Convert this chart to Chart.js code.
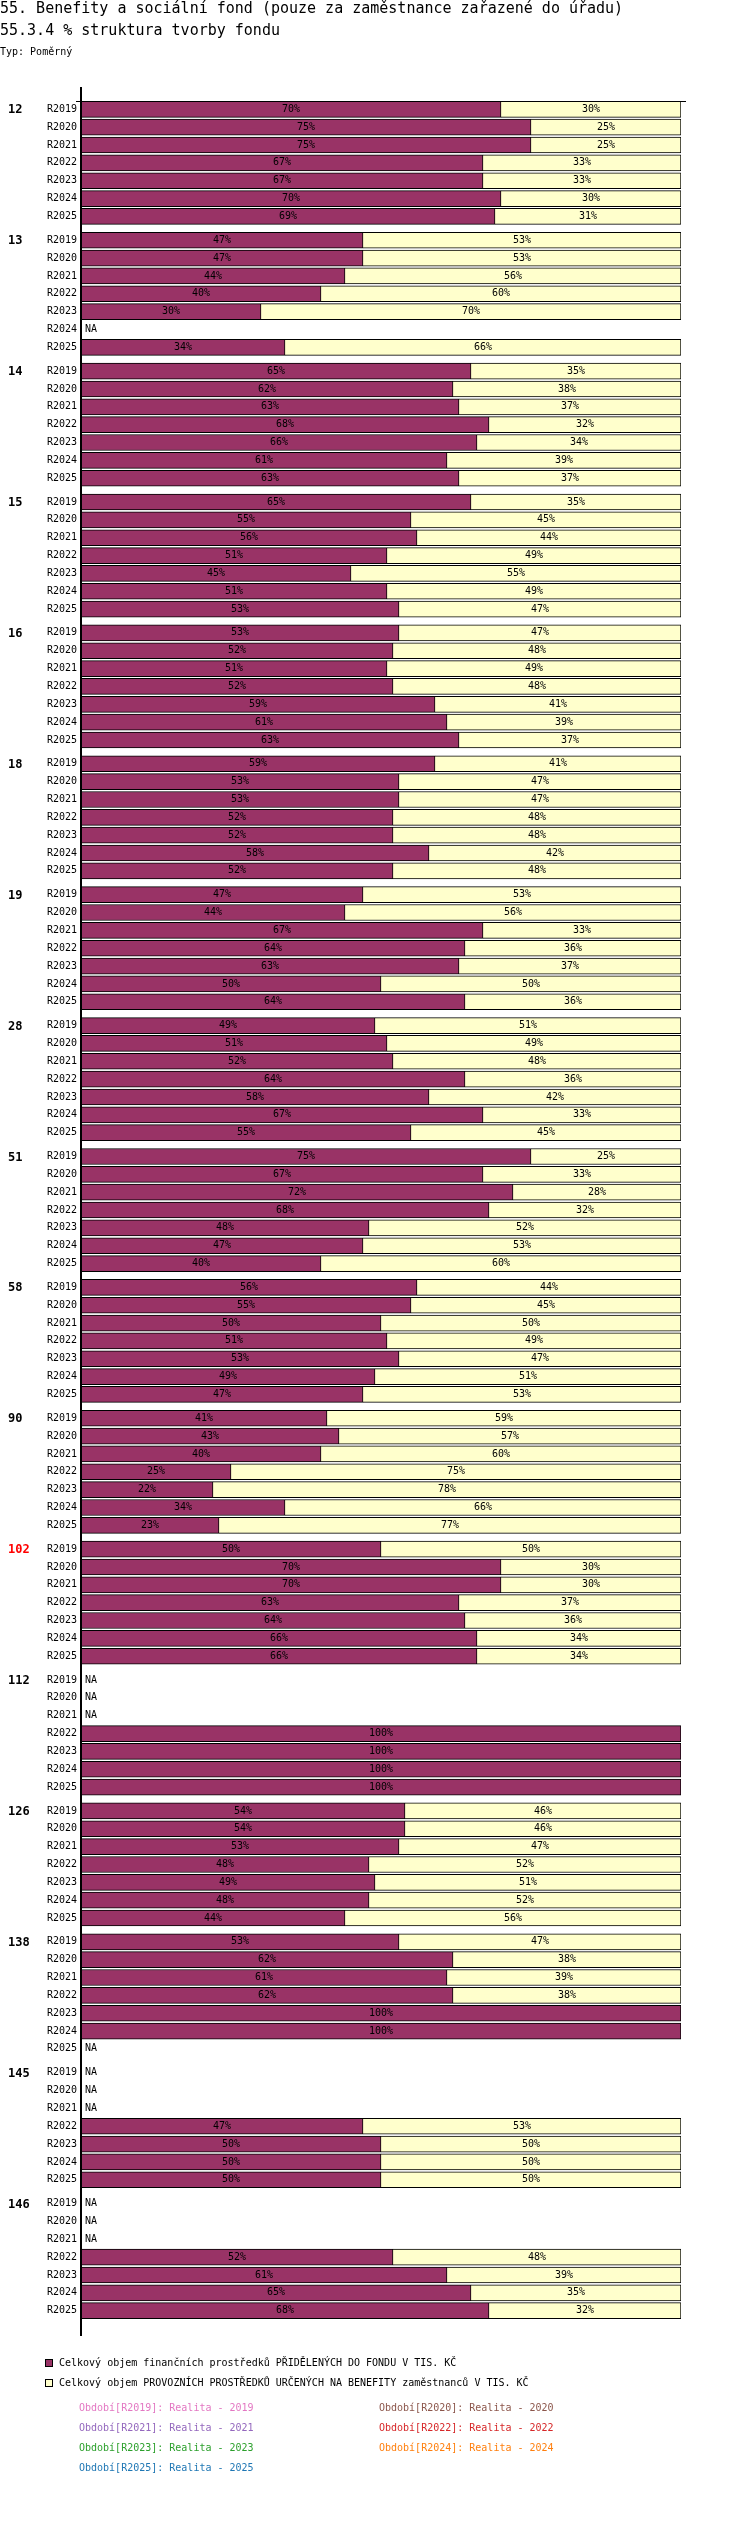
<!DOCTYPE html>
<html>
<head>
<meta charset="utf-8">
<script src="https://cdn.jsdelivr.net/npm/chart.js@4.4.1/dist/chart.umd.min.js"></script>
<style>
  body { margin: 0; background: #fff; font-family: "DejaVu Sans Mono", monospace; color: #000; }
  #wrap { position: relative; width: 750px; height: 2546px; }
  #chartBox { position: absolute; left: 0; top: 0; width: 750px; height: 2546px; }
  .t { position: absolute; white-space: pre; }
  .h1 { left: 0; top: 0; font-size: 15px; line-height: 16px; }
  .h2 { left: 0; top: 22px; font-size: 15px; line-height: 16px; }
  .h3 { left: 0; top: 46px; font-size: 10px; line-height: 12px; }
  .lg { left: 59px; font-size: 10px; line-height: 12px; }
  .sq { position: absolute; left: 45px; width: 8px; height: 8px; border: 1px solid #000; box-sizing: border-box; }
  .per { font-size: 10px; line-height: 12px; }
</style>
</head>
<body>
<div id="wrap">
  <div id="chartBox"><canvas id="fondChart"></canvas></div>
  <div class="t h1">55. Benefity a sociální fond (pouze za zaměstnance zařazené do úřadu)</div>
  <div class="t h2">55.3.4 % struktura tvorby fondu</div>
  <div class="t h3">Typ: Poměrný</div>

  <div class="sq" style="top:2359px;background:#993366"></div>
  <div class="t lg" style="top:2357px">Celkový objem finančních prostředků PŘIDĚLENÝCH DO FONDU V TIS. KČ</div>
  <div class="sq" style="top:2379px;background:#ffffcc"></div>
  <div class="t lg" style="top:2377px">Celkový objem PROVOZNÍCH PROSTŘEDKŮ URČENÝCH NA BENEFITY zaměstnanců V TIS. KČ</div>
  <div id="periods"></div>
</div>

<script>
    const groups = ['12', '13', '14', '15', '16', '18', '19', '28', '51', '58', '90', '102', '112', '126', '138', '145', '146'];
    const periods = ['R2019', 'R2020', 'R2021', 'R2022', 'R2023', 'R2024', 'R2025'];
    const highlightGroup = '102';

    // % přidělených prostředků (fialová), null = NA
    const allocated = [
        [70, 75, 75, 67, 67, 70, 69],
        [47, 47, 44, 40, 30, null, 34],
        [65, 62, 63, 68, 66, 61, 63],
        [65, 55, 56, 51, 45, 51, 53],
        [53, 52, 51, 52, 59, 61, 63],
        [59, 53, 53, 52, 52, 58, 52],
        [47, 44, 67, 64, 63, 50, 64],
        [49, 51, 52, 64, 58, 67, 55],
        [75, 67, 72, 68, 48, 47, 40],
        [56, 55, 50, 51, 53, 49, 47],
        [41, 43, 40, 25, 22, 34, 23],
        [50, 70, 70, 63, 64, 66, 66],
        [null, null, null, 100, 100, 100, 100],
        [54, 54, 53, 48, 49, 48, 44],
        [53, 62, 61, 62, 100, 100, null],
        [null, null, null, 47, 50, 50, 50],
        [null, null, null, 52, 61, 65, 68]
    ];
    // % provozních prostředků na benefity (žlutá)
    const operating = [
        [30, 25, 25, 33, 33, 30, 31],
        [53, 53, 56, 60, 70, null, 66],
        [35, 38, 37, 32, 34, 39, 37],
        [35, 45, 44, 49, 55, 49, 47],
        [47, 48, 49, 48, 41, 39, 37],
        [41, 47, 47, 48, 48, 42, 48],
        [53, 56, 33, 36, 37, 50, 36],
        [51, 49, 48, 36, 42, 33, 45],
        [25, 33, 28, 32, 52, 53, 60],
        [44, 45, 50, 49, 47, 51, 53],
        [59, 57, 60, 75, 78, 66, 77],
        [50, 30, 30, 37, 36, 34, 34],
        [null, null, null, 0, 0, 0, 0],
        [46, 46, 47, 52, 51, 52, 56],
        [47, 38, 39, 38, 0, 0, null],
        [null, null, null, 53, 50, 50, 50],
        [null, null, null, 48, 39, 35, 32]
    ];

    const periodLegend = ['Období[R2019]: Realita - 2019', 'Období[R2020]: Realita - 2020', 'Období[R2021]: Realita - 2021',
        'Období[R2022]: Realita - 2022', 'Období[R2023]: Realita - 2023', 'Období[R2024]: Realita - 2024', 'Období[R2025]: Realita - 2025'];
    const periodColors = ['#e377c2', '#8c564b', '#9467bd', '#d62728', '#2ca02c', '#ff7f0e', '#1f77b4'];

    const MONO = "'DejaVu Sans Mono', monospace";
    const GROUP_GAP = 1 / 3;   // mezera mezi skupinami (v řádcích)

    // pozice řádků na ose y
    const rows = [];
    groups.forEach((g, gi) => {
        periods.forEach((p, pi) => {
            rows.push({ gi: gi, pi: pi, pos: gi * (periods.length + GROUP_GAP) + pi });
        });
    });
    const rowLabel = {};
    rows.forEach(r => { rowLabel[Math.round(r.pos * 3)] = periods[r.pi]; });
    const lastPos = rows[rows.length - 1].pos;

    // legenda období
    const perBox = document.getElementById('periods');
    periodLegend.forEach((txt, i) => {
        const d = document.createElement('div');
        d.className = 't per';
        d.style.left = (i % 2 === 0 ? 79 : 379) + 'px';
        d.style.top = (2402 + Math.floor(i / 2) * 20) + 'px';
        d.style.color = periodColors[i];
        d.textContent = txt;
        perBox.appendChild(d);
    });

    const decorPlugin = {
        id: 'decor',
        afterDatasetsDraw(chart) {
            const ctx = chart.ctx;
            const ys = chart.scales.y;
            ctx.save();
            ctx.font = '10px ' + MONO;
            ctx.fillStyle = '#000';
            ctx.textBaseline = 'middle';
            ctx.textAlign = 'center';
            chart.data.datasets.forEach((ds, di) => {
                const meta = chart.getDatasetMeta(di);
                meta.data.forEach((bar, i) => {
                    const v = ds.data[i].x;
                    if (v === null || v === undefined) return;
                    ctx.fillText(v + '%', (bar.base + bar.x) / 2, bar.y);
                });
            });
            // NA
            ctx.textAlign = 'left';
            rows.forEach(r => {
                if (allocated[r.gi][r.pi] === null) {
                    ctx.fillText('NA', chart.chartArea.left + 4, ys.getPixelForValue(r.pos));
                }
            });
            ctx.restore();
        },
        afterDraw(chart) {
            const ctx = chart.ctx;
            const ys = chart.scales.y;
            const area = chart.chartArea;
            ctx.save();
            ctx.strokeStyle = '#000';
            // osa
            ctx.lineWidth = 2;
            ctx.beginPath();
            ctx.moveTo(area.left, area.top);
            ctx.lineTo(area.left, area.bottom);
            ctx.stroke();
            ctx.lineWidth = 1;
            const topY = Math.round(ys.getPixelForValue(0) - 8) + 0.5;
            ctx.beginPath();
            ctx.moveTo(area.left - 5, topY);
            ctx.lineTo(area.right + 5, topY);
            ctx.stroke();
            // popisky skupin
            ctx.font = 'bold 12px ' + MONO;
            ctx.textAlign = 'left';
            ctx.textBaseline = 'middle';
            groups.forEach((g, gi) => {
                ctx.fillStyle = g === highlightGroup ? '#ff0000' : '#000';
                ctx.fillText(g, 8, ys.getPixelForValue(gi * (periods.length + GROUP_GAP)) + 1);
            });
            ctx.restore();
        }
    };

    const ctxFond = document.getElementById('fondChart').getContext('2d');

    new Chart(ctxFond, {
        type: 'bar',
        data: {
            datasets: [{
                label: 'Celkový objem finančních prostředků PŘIDĚLENÝCH DO FONDU V TIS. KČ',
                data: rows.map(r => ({ x: allocated[r.gi][r.pi], y: r.pos })),
                backgroundColor: '#993366',
                borderColor: '#000000',
                borderWidth: 1,
                borderSkipped: false,
                barThickness: 16
            }, {
                label: 'Celkový objem PROVOZNÍCH PROSTŘEDKŮ URČENÝCH NA BENEFITY zaměstnanců V TIS. KČ',
                data: rows.map(r => ({ x: operating[r.gi][r.pi] || null, y: r.pos })),
                backgroundColor: '#ffffcc',
                borderColor: '#000000',
                borderWidth: 1,
                borderSkipped: 'start',
                barThickness: 16
            }]
        },
        options: {
            indexAxis: 'y',
            responsive: true,
            maintainAspectRatio: false,
            animation: false,
            layout: { padding: { left: 0, right: 69, top: 87, bottom: 210 } },
            plugins: {
                legend: { display: false },
                tooltip: { enabled: false }
            },
            scales: {
                x: {
                    type: 'linear',
                    stacked: true,
                    min: 0,
                    max: 100,
                    display: false
                },
                y: {
                    type: 'linear',
                    stacked: true,
                    reverse: true,
                    min: -13 / 18,
                    max: lastPos + 16 / 18,
                    grid: { display: false, drawTicks: false },
                    border: { display: false },
                    afterBuildTicks: function(scale) {
                        scale.ticks = rows.map(r => ({ value: r.pos }));
                    },
                    afterFit: function(scale) {
                        scale.width = 81;
                    },
                    ticks: {
                        autoSkip: false,
                        padding: 4,
                        color: '#000',
                        font: { family: MONO, size: 10 },
                        callback: function(value) {
                            return rowLabel[Math.round(value * 3)] || '';
                        }
                    }
                }
            }
        },
        plugins: [decorPlugin]
    });
</script>
</body>
</html>
